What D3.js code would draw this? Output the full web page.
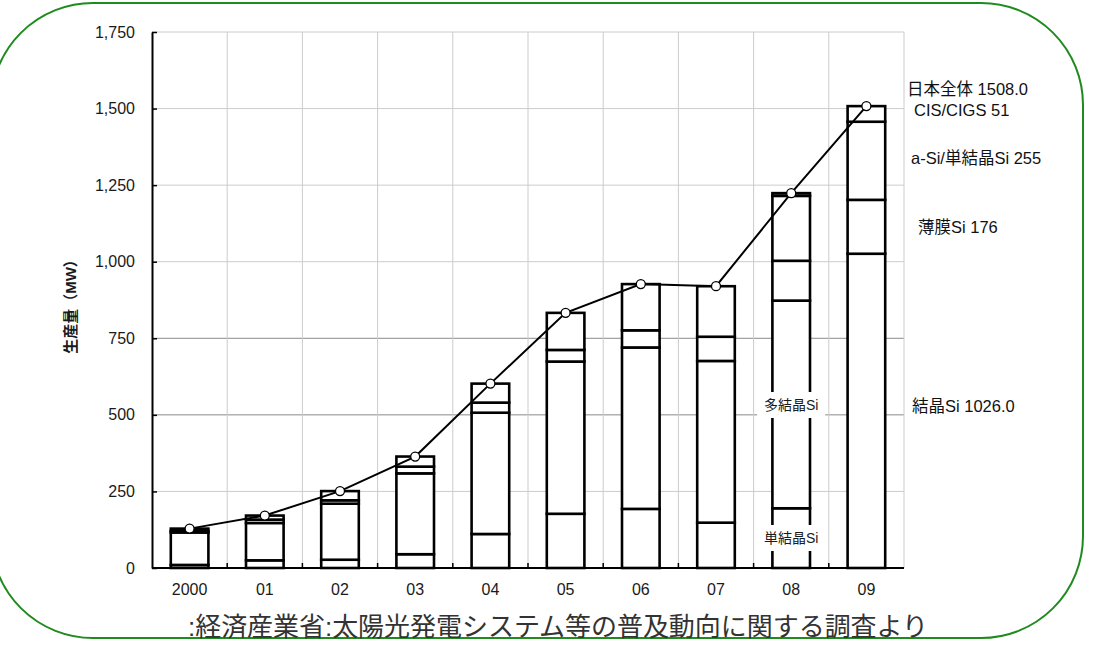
<!DOCTYPE html>
<html><head><meta charset="utf-8">
<script src="https://cdn.jsdelivr.net/npm/d3@7"></script>
<style>
html,body{margin:0;padding:0;background:#fff;}
svg{display:block;font-family:"Liberation Sans","Noto Sans CJK JP",sans-serif;}
</style></head>
<body>
<svg id="chart" width="1100" height="645"></svg>
<script>
// ---- data ----
const years = ["2000","01","02","03","04","05","06","07","08","09"];
const mono     = [10, 25, 27, 45, 111, 177, 193, 148, 195, null]; // 単結晶Si
const crystal  = [116, 147, 210, 309, 507, 674, 720, 676, 873, 1026]; // 結晶Si (単結晶+多結晶)
const thinSi   = [5, 11, 11, 22, 33, 38, 56, 79, 130, 176];          // 薄膜Si
const aSiMono  = [7.6, 13.2, 30.1, 32.9, 62, 121, 150.9, 165, 212, 255]; // a-Si/単結晶Si
const cis      = [0, 0, 0, 0, 0, 0, 0, 0, 8.9, 51];                   // CIS/CIGS
const total    = [128.6, 171.2, 251.1, 363.9, 602, 833, 926.9, 920, 1223.9, 1508]; // 日本全体
const yTicks   = [0, 250, 500, 750, 1000, 1250, 1500, 1750];
const darkGrid = [500, 750];

// ---- layout ----
const svg = d3.select("#chart");
const X0 = 152, X1 = 904, Y0 = 568, Y1 = 32;
const x = d3.scaleBand().domain(years).range([X0, X1]).paddingInner(0.5).paddingOuter(0.25);
const y = d3.scaleLinear().domain([0, 1750]).range([Y0, Y1]);
const step = x.step();

// rounded green frame
svg.append("rect").attr("x", -9).attr("y", 3).attr("width", 1092).attr("height", 635)
  .attr("rx", 102).attr("ry", 102).attr("fill", "none").attr("stroke", "#1f8b1f").attr("stroke-width", 2);

// grid
const g = svg.append("g");
yTicks.filter(d => d > 0).forEach(v => {
  g.append("line").attr("x1", X0).attr("x2", X1).attr("y1", y(v)).attr("y2", y(v))
    .attr("stroke", darkGrid.includes(v) ? "#8a8a8a" : "#cccccc").attr("stroke-width", 1);
});
for (let k = 1; k <= years.length; k++) {
  const xx = X0 + k * step;
  g.append("line").attr("x1", xx).attr("x2", xx).attr("y1", Y1).attr("y2", Y0)
    .attr("stroke", "#cccccc").attr("stroke-width", 1);
}

// axes
const yAxis = d3.axisLeft(y).tickValues(yTicks).tickSizeInner(-5).tickSizeOuter(0)
  .tickPadding(17).tickFormat(d3.format(","));
const ya = svg.append("g").attr("transform", `translate(${X0},0)`).call(yAxis);
ya.select(".domain").attr("stroke", "#000").attr("stroke-width", 2);
ya.selectAll(".tick line").attr("stroke", "#000").attr("stroke-width", 1.5);
ya.selectAll("text").attr("font-size", 16).attr("fill", "#1a1a1a")
  .attr("font-family", "'Liberation Sans',sans-serif");

const xAxis = d3.axisBottom(x).tickSize(0).tickPadding(16);
const xa = svg.append("g").attr("transform", `translate(0,${Y0})`).call(xAxis);
xa.select(".domain").remove();
xa.selectAll("text").attr("font-size", 16).attr("fill", "#1a1a1a")
  .attr("font-family", "'Liberation Sans',sans-serif");
svg.append("line").attr("x1", X0).attr("x2", X1).attr("y1", Y0).attr("y2", Y0)
  .attr("stroke", "#000").attr("stroke-width", 2);
for (let k = 1; k < years.length; k++) {
  const xx = X0 + k * step;
  svg.append("line").attr("x1", xx).attr("x2", xx).attr("y1", Y0).attr("y2", Y0 - 5)
    .attr("stroke", "#000").attr("stroke-width", 1.5);
}

// stacked segments
const segs = [];
years.forEach((yr, i) => {
  const bounds = [];
  if (mono[i] != null) bounds.push(mono[i]);
  let c = crystal[i]; bounds.push(c);
  c += thinSi[i]; bounds.push(c);
  c += aSiMono[i]; bounds.push(c);
  if (cis[i] > 0) { c += cis[i]; bounds.push(c); }
  let prev = 0;
  bounds.forEach(b => { segs.push({yr, y0: prev, y1: b}); prev = b; });
});
svg.append("g").selectAll("rect").data(segs).join("rect")
  .attr("x", d => x(d.yr)).attr("width", x.bandwidth())
  .attr("y", d => y(d.y1)).attr("height", d => y(d.y0) - y(d.y1))
  .attr("fill", "#fff").attr("stroke", "#000").attr("stroke-width", 2.6);

// in-bar labels
const inLabels = [
  {text: "多結晶Si", yr: "08", cy: 405},
  {text: "単結晶Si", yr: "08", cy: 538}
];
inLabels.forEach(l => {
  const cx = x(l.yr) + x.bandwidth() / 2;
  svg.append("rect").attr("x", cx - 34).attr("y", l.cy - 13).attr("width", 68).attr("height", 26).attr("fill", "#fff");
  svg.append("text").attr("x", cx).attr("y", l.cy).attr("text-anchor", "middle")
    .attr("dominant-baseline", "central").attr("font-size", 14).attr("fill", "#1a1a1a").text(l.text);
});

// total line
const cx = d => x(d) + x.bandwidth() / 2;
svg.append("path").datum(total)
  .attr("d", d3.line().x((d, i) => cx(years[i])).y(d => y(d)))
  .attr("fill", "none").attr("stroke", "#000").attr("stroke-width", 2);
svg.append("g").selectAll("circle").data(total).join("circle")
  .attr("cx", (d, i) => cx(years[i])).attr("cy", d => y(d)).attr("r", 4.5)
  .attr("fill", "#fff").attr("stroke", "#000").attr("stroke-width", 1.3);

// right labels
const last = years.length - 1;
const rightLabels = [
  {text: `日本全体 ${total[last].toFixed(1)}`, x: 907, y: 89},
  {text: `CIS/CIGS ${cis[last]}`, x: 914, y: 110},
  {text: `a-Si/単結晶Si ${aSiMono[last]}`, x: 911, y: 158},
  {text: `薄膜Si ${thinSi[last]}`, x: 918, y: 227},
  {text: `結晶Si ${crystal[last].toFixed(1)}`, x: 912, y: 406}
];
rightLabels.forEach(l => {
  svg.append("text").attr("x", l.x).attr("y", l.y).attr("dominant-baseline", "central")
    .attr("font-size", 16.5).attr("fill", "#111").text(l.text);
});

// y title
svg.append("text").attr("transform", "translate(70,303) rotate(-90)")
  .attr("text-anchor", "middle").attr("dominant-baseline", "central")
  .attr("font-size", 15).attr("font-weight", "bold").attr("fill", "#1a1a1a").text("生産量（MW）");

// source
svg.append("text").attr("x", 188).attr("y", 627).attr("dominant-baseline", "central")
  .attr("font-size", 26).attr("fill", "#333")
  .attr("textLength", 740).attr("lengthAdjust", "spacing")
  .text(":経済産業省:太陽光発電システム等の普及動向に関する調査より");
</script>
</body></html>
